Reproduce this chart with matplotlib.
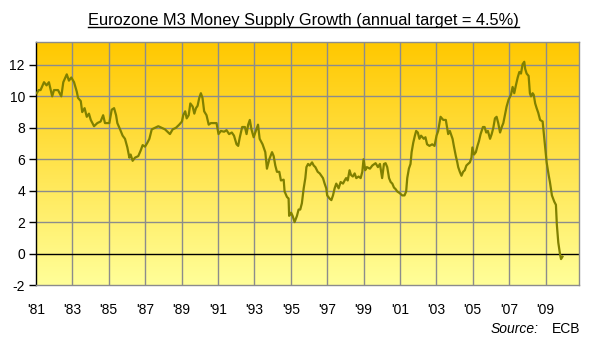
import numpy as np
import matplotlib
matplotlib.use('Agg')
import matplotlib.pyplot as plt
from matplotlib.colors import LinearSegmentedColormap
from matplotlib.lines import Line2D

plt.rcParams['font.family'] = ['Liberation Sans', 'DejaVu Sans']

# decimal year of each reading
dates = [
    1981.04, 1981.15, 1981.25, 1981.44, 1981.58, 1981.71, 1981.89, 1981.99,
    1982.21, 1982.39, 1982.50, 1982.69, 1982.81, 1982.94, 1983.09, 1983.24,
    1983.31, 1983.46, 1983.54, 1983.67, 1983.79, 1983.91, 1984.01, 1984.19,
    1984.37, 1984.55, 1984.69, 1984.79, 1985.03, 1985.16, 1985.29, 1985.40,
    1985.47, 1985.62, 1985.76, 1985.89, 1986.02, 1986.13, 1986.20, 1986.31,
    1986.44, 1986.62, 1986.75, 1986.86, 1986.99, 1987.12, 1987.23, 1987.36,
    1987.54, 1987.72, 1987.91, 1988.09, 1988.27, 1988.36, 1988.51, 1988.69,
    1988.87, 1989.02, 1989.09, 1989.20, 1989.28, 1989.39, 1989.48, 1989.61,
    1989.70, 1989.79, 1989.88, 1989.97, 1990.06, 1990.15, 1990.24, 1990.37,
    1990.49, 1990.61, 1990.79, 1990.92, 1991.03, 1991.16, 1991.34, 1991.47,
    1991.61, 1991.76, 1991.88, 1992.02, 1992.11, 1992.20, 1992.33, 1992.48,
    1992.57, 1992.66, 1992.75, 1992.84, 1992.96, 1993.05, 1993.20, 1993.29,
    1993.45, 1993.60, 1993.69, 1993.82, 1993.97, 1994.06, 1994.15, 1994.24,
    1994.37, 1994.46, 1994.61, 1994.66, 1994.79, 1994.88, 1994.91, 1995.02,
    1995.10, 1995.21, 1995.34, 1995.43, 1995.52, 1995.61, 1995.71, 1995.80,
    1995.86, 1995.95, 1996.04, 1996.17, 1996.26, 1996.35, 1996.48, 1996.59,
    1996.77, 1996.86, 1996.95, 1997.00, 1997.13, 1997.23, 1997.32, 1997.41,
    1997.50, 1997.63, 1997.74, 1997.87, 1997.96, 1998.04, 1998.13, 1998.23,
    1998.31, 1998.41, 1998.51, 1998.60, 1998.73, 1998.84, 1998.93, 1999.00,
    1999.09, 1999.18, 1999.35, 1999.48, 1999.66, 1999.79, 1999.90, 2000.02,
    2000.12, 2000.21, 2000.30, 2000.40, 2000.49, 2000.58, 2000.67, 2000.76,
    2000.85, 2000.98, 2001.12, 2001.25, 2001.34, 2001.40, 2001.49, 2001.58,
    2001.64, 2001.73, 2001.82, 2001.89, 2001.98, 2002.07, 2002.16, 2002.31,
    2002.40, 2002.49, 2002.62, 2002.77, 2002.90, 2003.01, 2003.10, 2003.23,
    2003.38, 2003.52, 2003.65, 2003.74, 2003.89, 2003.96, 2004.07, 2004.15,
    2004.20, 2004.29, 2004.38, 2004.47, 2004.56, 2004.65, 2004.74, 2004.84,
    2004.93, 2004.98, 2005.07, 2005.17, 2005.26, 2005.34, 2005.43, 2005.56,
    2005.65, 2005.74, 2005.83, 2005.95, 2006.04, 2006.13, 2006.22, 2006.31,
    2006.40, 2006.50, 2006.61, 2006.68, 2006.79, 2006.86, 2006.97, 2007.10,
    2007.19, 2007.28, 2007.37, 2007.47, 2007.56, 2007.65, 2007.74, 2007.83,
    2007.88, 2007.96, 2008.07, 2008.14, 2008.20, 2008.29, 2008.35, 2008.43,
    2008.51, 2008.60, 2008.70, 2008.84, 2008.90, 2008.97, 2009.06, 2009.17,
    2009.24, 2009.35, 2009.48, 2009.57, 2009.62, 2009.70, 2009.79, 2009.85,
    2009.93,
]

# annual M3 growth, %
m3_growth = [
    10.2, 10.4, 10.4, 10.9, 10.7, 10.9, 10.0, 10.4,
    10.4, 10.0, 10.9, 11.4, 11.0, 11.2, 10.9, 10.3,
    9.9, 9.7, 9.0, 9.25, 8.7, 8.9, 8.5, 8.1,
    8.3, 8.4, 8.8, 8.3, 8.3, 9.15, 9.25, 8.8,
    8.3, 7.9, 7.5, 7.3, 6.75, 6.1, 6.3, 5.9,
    6.1, 6.2, 6.55, 6.9, 6.8, 7.05, 7.3, 7.9,
    8.0, 8.1, 8.0, 7.9, 7.7, 7.6, 7.9, 8.0,
    8.2, 8.4, 8.8, 9.05, 8.6, 8.8, 9.55, 9.35,
    8.9, 9.25, 9.4, 9.9, 10.2, 9.9, 9.05, 8.8,
    8.2, 8.3, 8.3, 8.3, 7.6, 7.8, 7.75, 7.85,
    7.6, 7.7, 7.5, 6.95, 6.85, 7.4, 8.05, 8.05,
    7.6, 8.2, 8.5, 7.9, 7.4, 7.7, 8.2, 7.3,
    6.95, 6.45, 5.4, 6.0, 6.45, 6.2, 5.6, 5.2,
    5.2, 4.65, 4.7, 3.95, 3.6, 3.5, 2.4, 2.6,
    2.4, 2.0, 2.4, 2.8, 2.8, 3.2, 4.15, 4.8,
    5.5, 5.7, 5.6, 5.8, 5.6, 5.5, 5.2, 5.1,
    4.8, 4.45, 4.15, 3.7, 3.5, 3.4, 3.7, 4.15,
    4.45, 4.15, 4.55, 4.45, 4.65, 4.8, 4.65, 5.3,
    5.0, 4.9, 5.1, 4.8, 4.9, 4.8, 5.2, 6.0,
    5.3, 5.5, 5.4, 5.6, 5.75, 5.5, 5.7, 4.8,
    5.7, 5.75, 5.5, 4.8, 4.55, 4.45, 4.2, 4.1,
    3.95, 3.85, 3.7, 3.7, 3.95, 4.8, 5.4, 5.7,
    6.45, 7.05, 7.5, 7.8, 7.7, 7.3, 7.5, 7.3,
    7.4, 6.95, 6.85, 6.95, 6.85, 7.5, 7.8, 8.7,
    8.5, 8.5, 7.6, 7.8, 7.3, 6.85, 6.2, 5.8,
    5.5, 5.2, 4.95, 5.2, 5.3, 5.6, 5.7, 5.8,
    6.1, 6.75, 6.3, 6.45, 6.85, 7.15, 7.6, 8.05,
    8.05, 7.7, 7.8, 7.3, 7.6, 8.0, 8.6, 8.7,
    8.3, 7.7, 8.1, 8.3, 8.95, 9.35, 9.8, 10.1,
    10.6, 10.2, 10.7, 11.2, 11.55, 11.45, 12.05, 12.2,
    11.75, 11.45, 11.3, 10.2, 10.0, 10.2, 10.1, 9.55,
    9.25, 8.95, 8.5, 8.4, 7.7, 6.85, 5.8, 5.0,
    4.55, 3.7, 3.3, 3.1, 1.85, 0.7, 0.0, -0.35,
    -0.2,
]

tick_years = list(range(1981, 2010, 2))
tick_labels = ["'%02d" % (y % 100) for y in tick_years]
y_ticks = list(range(-2, 13, 2))

fig = plt.figure(figsize=(5.97, 3.51), dpi=100)
ax = fig.add_axes([0.0603, 0.188, 0.909, 0.692])

x0, x1 = 1981, 2010.82
y0, y1 = -2, 13.45

# yellow gradient background
cmap = LinearSegmentedColormap.from_list('bg', ['#ffff99', '#ffc800'])
grad = np.linspace(0, 1, 256).reshape(-1, 1)
ax.imshow(grad, cmap=cmap, aspect='auto', origin='lower',
          extent=[x0, x1, y0, y1], zorder=0)

ax.set_xlim(x0, x1)
ax.set_ylim(y0, y1)

for yy in y_ticks[1:]:
    if yy == 0:
        ax.axhline(0, color='black', lw=1.0, zorder=2)
    else:
        ax.axhline(yy, color='#8c8c8c', lw=1.0, zorder=1)
for xx in tick_years[1:]:
    ax.axvline(xx, color='#8c8c8c', lw=1.0, zorder=1)

ax.plot(dates, m3_growth, color='#808000', lw=1.6, zorder=3)

ax.set_yticks(y_ticks)
ax.set_yticklabels([str(v) for v in y_ticks], fontsize=10)
ax.set_xticks(tick_years)
ax.set_xticklabels(tick_labels, fontsize=10)
ax.tick_params(axis='y', direction='out', length=5, width=1, color='black', pad=3)
ax.tick_params(axis='x', length=0, pad=13)

for side in ['top', 'right', 'bottom']:
    ax.spines[side].set_color('#8c8c8c')
    ax.spines[side].set_linewidth(1.0)
ax.spines['left'].set_color('black')
ax.spines['left'].set_linewidth(1.0)

title = fig.text(0.508, 0.930, 'Eurozone M3 Money Supply Growth (annual target = 4.5%)',
                 ha='center', va='baseline', fontsize=11.8)

fig.text(0.903, 0.052, 'Source:', ha='right', va='baseline', fontsize=10, style='italic')
fig.text(0.972, 0.052, 'ECB', ha='right', va='baseline', fontsize=10)

# underline the title
fig.canvas.draw()
bb = title.get_window_extent().transformed(fig.transFigure.inverted())
fig.add_artist(Line2D([bb.x0, bb.x1], [0.923, 0.923], color='black', lw=1.0,
                      transform=fig.transFigure))

fig.savefig('out.png', dpi=100, facecolor='white')
